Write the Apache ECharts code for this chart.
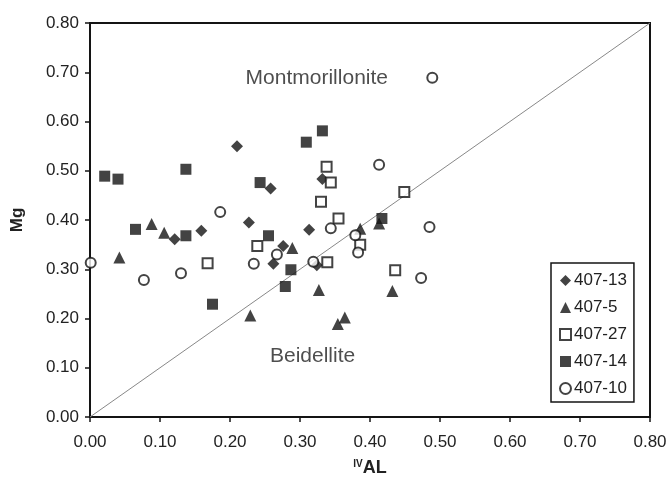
<!DOCTYPE html>
<html>
<head>
  <meta charset="utf-8">
  <title>Mg vs IVAL</title>
  <script src="https://cdn.jsdelivr.net/npm/echarts@6/dist/echarts.min.js"></script>
  <style>
    body { margin: 0; background: #fff; }
    #chart { width: 670px; height: 480px; }
  </style>
</head>
<body>
  <div id="chart"></div>
  <script>
    // datos: [IVAL, Mg]
    const s407_13 = [[0.210, 0.550], [0.258, 0.464], [0.332, 0.483], [0.227, 0.395], [0.159, 0.378],
      [0.313, 0.380], [0.121, 0.361], [0.276, 0.347], [0.262, 0.311], [0.324, 0.308]];
    const s407_5 = [[0.042, 0.324], [0.088, 0.392], [0.106, 0.374], [0.229, 0.206], [0.289, 0.343],
      [0.327, 0.258], [0.354, 0.189], [0.364, 0.202], [0.386, 0.382], [0.413, 0.393], [0.432, 0.256]];
    const s407_27 = [[0.168, 0.312], [0.239, 0.347], [0.330, 0.437], [0.338, 0.508], [0.344, 0.476],
      [0.355, 0.403], [0.339, 0.314], [0.386, 0.350], [0.436, 0.298], [0.449, 0.457]];
    const s407_14 = [[0.021, 0.489], [0.040, 0.483], [0.137, 0.503], [0.065, 0.381], [0.137, 0.368],
      [0.243, 0.476], [0.309, 0.558], [0.332, 0.581], [0.175, 0.229], [0.255, 0.368], [0.287, 0.299],
      [0.279, 0.265], [0.417, 0.403]];
    const s407_10 = [[0.001, 0.313], [0.077, 0.278], [0.130, 0.292], [0.186, 0.416], [0.234, 0.311],
      [0.267, 0.330], [0.319, 0.315], [0.344, 0.383], [0.413, 0.512], [0.379, 0.369], [0.383, 0.334],
      [0.489, 0.689], [0.485, 0.386], [0.473, 0.282]];
    const diagonal = [[0, 0], [0.8, 0.8]];
    const etiquetas = [
      { name: 'Montmorillonite', value: [0.324, 0.688] },
      { name: 'Beidellite', value: [0.318, 0.124] }
    ];
    const nombres = ['407-13', '407-5', '407-27', '407-14', '407-10'];

    const negro = '#141414';
    const fuente = 'Liberation Sans, Arial, sans-serif';

    var myChart = echarts.init(document.getElementById('chart'));

    function serie(name, data, symbol, size, hueco) {
      return {
        name: name,
        type: 'scatter',
        data: data,
        symbol: symbol,
        symbolSize: size,
        itemStyle: hueco
          ? { color: '#fff', borderColor: negro, borderWidth: 2 }
          : { color: negro },
        z: 3
      };
    }

    var option = {
      animation: false,
      textStyle: { fontFamily: fuente },
      grid: {
        left: 90, right: 20, top: 23, bottom: 63,
        containLabel: false, outerBoundsMode: 'none',
        show: true, borderColor: negro, borderWidth: 2
      },
      legend: {
        data: nombres,
        orient: 'vertical',
        left: 551, top: 263,
        padding: [9, 7, 5, 8],
        itemWidth: 11, itemHeight: 11, itemGap: 10,
        borderColor: negro, borderWidth: 1.5,
        textStyle: { fontSize: 17, lineHeight: 17, color: '#222', fontFamily: fuente, padding: [0, 0, 0, -2] }
      },
      xAxis: {
        type: 'value', min: 0, max: 0.8, interval: 0.1,
        name: '{sup|IV}{b|AL}',
        nameLocation: 'middle', nameGap: 42,
        nameTextStyle: {
          rich: {
            sup: { fontSize: 10, fontWeight: 'bold', color: '#222', verticalAlign: 'top', padding: [0, 0, 8, 0] },
            b: { fontSize: 18, fontWeight: 'bold', color: '#222' }
          }
        },
        axisLine: { lineStyle: { color: negro, width: 2 } },
        axisTick: { length: 5, lineStyle: { color: negro, width: 1.5 } },
        axisLabel: { fontSize: 17, color: '#222', margin: 17, formatter: v => v.toFixed(2) },
        splitLine: { show: false }
      },
      yAxis: {
        type: 'value', min: 0, max: 0.8, interval: 0.1,
        name: 'Mg',
        nameLocation: 'middle', nameGap: 64, nameRotate: 90,
        nameTextStyle: { fontSize: 17, fontWeight: 'bold', color: '#222' },
        axisLine: { lineStyle: { color: negro, width: 2 } },
        axisTick: { length: 5, lineStyle: { color: negro, width: 1.5 } },
        axisLabel: { fontSize: 17, color: '#222', margin: 11, formatter: v => v.toFixed(2) },
        splitLine: { show: false }
      },
      series: [
        {
          name: 'diagonal', type: 'line', data: diagonal, silent: true,
          showSymbol: false, symbol: 'none',
          lineStyle: { color: '#888', width: 1 }, z: 1
        },
        {
          name: 'textos', type: 'scatter', data: etiquetas, symbolSize: 0, silent: true,
          label: {
            show: true, position: 'inside', formatter: p => p.name,
            fontSize: 21, color: '#222', fontFamily: fuente
          }
        },
        serie('407-13', s407_13, 'diamond', 12, false),
        serie('407-5', s407_5, 'triangle', 12, false),
        serie('407-27', s407_27, 'rect', 10, true),
        serie('407-14', s407_14, 'rect', 11, false),
        serie('407-10', s407_10, 'circle', 10, true)
      ]
    };

    myChart.setOption(option);
  </script>
</body>
</html>
